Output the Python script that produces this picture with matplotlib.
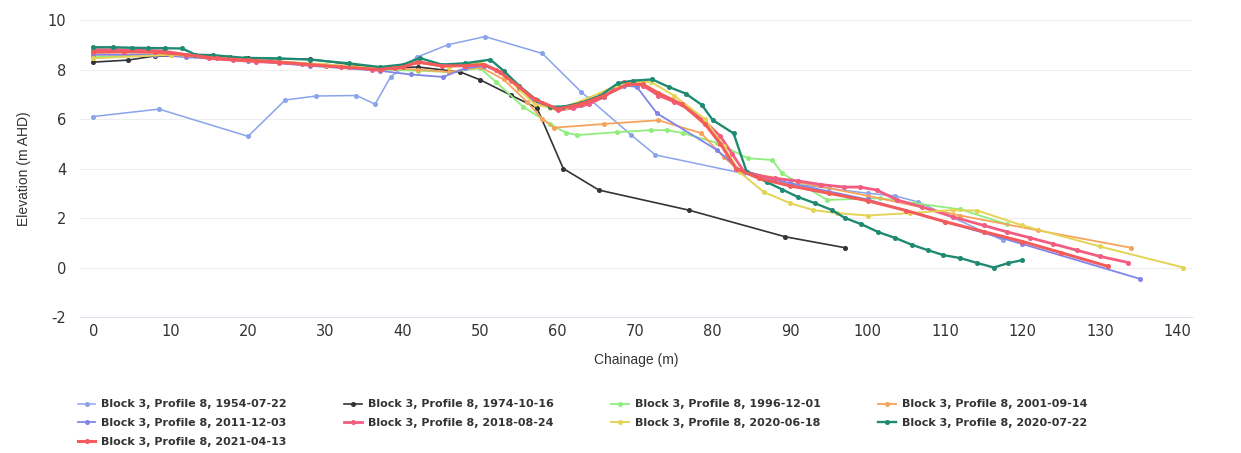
import matplotlib.pyplot as plt
from matplotlib.ticker import MultipleLocator

plt.rcParams['axes.unicode_minus'] = False

# profile data (chainage m, elevation m AHD)
x_1954 = [0, 8.5, 20, 24.8, 28.8, 34, 36.4, 38.4, 41.8, 45.8, 50.6, 58, 63, 69.5, 72.6, 84, 90, 95, 100, 103.5, 106.5, 117.5]
y_1954 = [6.1, 6.4, 5.3, 6.77, 6.93, 6.95, 6.6, 7.7, 8.5, 9.0, 9.33, 8.65, 7.1, 5.35, 4.55, 3.8, 3.4, 3.2, 3.0, 2.9, 2.65, 1.1]

x_1974 = [0, 4.5, 8, 12, 20, 28, 37, 42, 47.4, 50, 53.9, 57.3, 60.7, 65.3, 76.9, 89.4, 97.1]
y_1974 = [8.3, 8.38, 8.55, 8.55, 8.45, 8.42, 8.05, 8.1, 7.9, 7.58, 6.97, 6.45, 4.0, 3.13, 2.32, 1.24, 0.8]

x_1996 = [0, 10, 20, 30, 37, 42, 46, 50, 52, 55.5, 59, 61, 62.5, 67.7, 72, 74.1, 76.2, 80.6, 84.5, 87.7, 89, 94.8, 101.6, 106, 112, 118]
y_1996 = [8.5, 8.6, 8.4, 8.2, 8.0, 7.95, 7.9, 8.05, 7.5, 6.5, 5.8, 5.45, 5.35, 5.47, 5.55, 5.55, 5.43, 5.03, 4.42, 4.34, 3.8, 2.73, 2.8, 2.6, 2.35, 1.75]

x_2001 = [0, 10, 20, 30, 37, 42, 46, 50, 53, 56, 58, 59.5, 66, 73, 78.5, 81.4, 83.5, 91, 100, 112, 122, 134]
y_2001 = [8.6, 8.6, 8.4, 8.2, 8.05, 8.0, 7.9, 8.1, 7.6, 6.7, 6.0, 5.65, 5.8, 5.95, 5.43, 4.47, 3.9, 3.45, 2.9, 2.1, 1.5, 0.8]

x_2011 = [0, 8, 12, 20, 28, 37, 41, 45.2, 48, 50.5, 53, 55, 57, 60, 63, 66, 68.5, 70.2, 72.8, 80.6, 83.5, 90, 100, 110, 120, 135.2]
y_2011 = [8.6, 8.6, 8.5, 8.35, 8.15, 7.95, 7.8, 7.7, 8.05, 8.15, 7.85, 7.2, 6.7, 6.4, 6.55, 6.9, 7.35, 7.3, 6.23, 4.74, 3.95, 3.4, 2.75, 1.85, 0.95, -0.46]

x_2018 = [0, 3, 6, 9, 12, 15, 18, 21, 24, 27, 30, 33, 36, 39, 42, 45, 48, 50, 52, 54, 56, 58, 60, 62, 64, 66, 68.5, 71, 73, 75, 77, 79, 81, 82.5, 84, 86, 88, 91, 94, 97, 99, 101.2, 103.8, 107, 111, 115, 118, 121, 124, 127, 130, 133.7]
y_2018 = [8.8, 8.8, 8.78, 8.75, 8.6, 8.45, 8.38, 8.32, 8.28, 8.22, 8.15, 8.1, 8.0, 8.05, 8.3, 8.15, 8.2, 8.25, 8.0, 7.55, 7.0, 6.65, 6.35, 6.45, 6.6, 6.9, 7.5, 7.35, 6.95, 6.7, 6.4, 5.9, 5.3, 4.6, 3.9, 3.7, 3.6, 3.5, 3.35, 3.25, 3.25, 3.13, 2.73, 2.45, 2.05, 1.7, 1.44, 1.2, 0.95, 0.7, 0.45, 0.2]

x_2020a = [0, 10, 20, 30, 37, 42, 46, 50, 53, 55, 57, 59, 61, 64, 67.5, 70, 72, 75, 79, 81.4, 83.5, 86.6, 90, 93, 96, 100, 105.5, 111, 114.2, 120, 130, 140.8]
y_2020a = [8.45, 8.6, 8.4, 8.2, 8.05, 8.3, 8.1, 8.3, 7.8, 7.2, 6.6, 6.45, 6.5, 6.85, 7.35, 7.5, 7.5, 6.95, 6.0, 4.9, 3.85, 3.05, 2.6, 2.32, 2.2, 2.1, 2.2, 2.32, 2.3, 1.7, 0.85, 0.0]

x_2020b = [0, 2.5, 5, 7.1, 9.3, 11.5, 13.2, 15.5, 17.7, 19.6, 24, 28, 33, 37, 40, 42.2, 45, 48, 51.3, 53, 55, 57.3, 59, 60.7, 63, 65.5, 67.8, 69.7, 72.2, 74.3, 76.5, 78.6, 80, 82.7, 84.4, 87, 89, 91, 93.2, 95.4, 97.1, 99.2, 101.4, 103.6, 105.8, 107.8, 109.8, 112, 114.2, 116.3, 118.2, 120]
y_2020b = [8.9, 8.9, 8.88, 8.87, 8.86, 8.85, 8.6, 8.58, 8.52, 8.47, 8.45, 8.4, 8.25, 8.1, 8.2, 8.46, 8.2, 8.25, 8.4, 7.95, 7.35, 6.75, 6.5, 6.5, 6.65, 6.95, 7.45, 7.55, 7.6, 7.3, 7.03, 6.57, 5.96, 5.42, 3.86, 3.45, 3.15, 2.85, 2.6, 2.32, 2.0, 1.75, 1.43, 1.19, 0.91, 0.7, 0.5, 0.38, 0.18, 0.0, 0.18, 0.3]

x_2021 = [0, 4, 8, 12, 16, 20, 24, 28, 32, 37, 40, 42, 45, 48, 50.5, 52.5, 55, 57, 60, 63, 66, 69, 71, 73, 76, 79, 81, 83, 86, 90, 95, 100, 105, 110, 115, 120, 125, 131]
y_2021 = [8.7, 8.72, 8.7, 8.6, 8.45, 8.38, 8.3, 8.2, 8.1, 8.0, 8.1, 8.3, 8.15, 8.15, 8.2, 7.9, 7.3, 6.8, 6.4, 6.6, 6.95, 7.4, 7.4, 7.05, 6.6, 5.8, 5.0, 4.0, 3.6, 3.3, 3.0, 2.7, 2.3, 1.85, 1.45, 1.05, 0.6, 0.05]

dates = ['1954-07-22', '1974-10-16', '1996-12-01', '2001-09-14', '2011-12-03',
         '2018-08-24', '2020-06-18', '2020-07-22', '2021-04-13']
xs = [x_1954, x_1974, x_1996, x_2001, x_2011, x_2018, x_2020a, x_2020b, x_2021]
ys = [y_1954, y_1974, y_1996, y_2001, y_2011, y_2018, y_2020a, y_2020b, y_2021]
farben = ['#8aa4ec', '#333338', '#90ed7d', '#f7a35c', '#8085e9',
          '#f15c80', '#e4d354', '#1f8a72', '#f45b5b']
breiten = [1.1, 1.2, 1.3, 1.3, 1.3, 2.0, 1.4, 1.7, 2.2]

fig = plt.figure(figsize=(12.41, 4.53), dpi=100)
ax = fig.add_axes([0.0645, 0.3002, 0.896, 0.6556])

linien = []
for x, y, c, lw, d in zip(xs, ys, farben, breiten, dates):
    l, = ax.plot(x, y, color=c, linewidth=lw, marker='o', markersize=2.6,
                 label='Block 3, Profile 8, ' + d)
    linien.append(l)

ax.set_xlim(-1.7, 141.9)
ax.set_ylim(-2, 10)
ax.xaxis.set_major_locator(MultipleLocator(10))
ax.yaxis.set_major_locator(MultipleLocator(2))
ax.grid(True, axis='y', color='#eeeeee', linewidth=0.8)
ax.set_axisbelow(True)

for s in ['top', 'right', 'left']:
    ax.spines[s].set_visible(False)
ax.spines['bottom'].set_color('#dde3ee')
ax.tick_params(axis='y', length=0, pad=10, labelsize=10.5, labelcolor='#333333')
ax.tick_params(axis='x', length=0, pad=5, labelsize=10.5, labelcolor='#333333')

ax.set_xlabel('Chainage (m)', fontsize=10, color='#333333', family='Liberation Sans', labelpad=10)
ax.set_ylabel('Elevation (m AHD)', fontsize=10, color='#333333', family='Liberation Sans', labelpad=12)

# reihenfolge wie im original (zeilenweise)
reihe = [0, 4, 8, 1, 5, 2, 6, 3, 7]
fig.legend([linien[i] for i in reihe], [linien[i].get_label() for i in reihe],
           loc='upper left', bbox_to_anchor=(0.059, 0.128), ncol=4,
           frameon=False, handlelength=1.6, handletextpad=0.5, columnspacing=5.2,
           labelspacing=0.8, borderaxespad=0,
           prop={'family': 'DejaVu Sans', 'weight': 'bold', 'size': 8},
           labelcolor='#333333')

fig.savefig('out.png', dpi=100)
